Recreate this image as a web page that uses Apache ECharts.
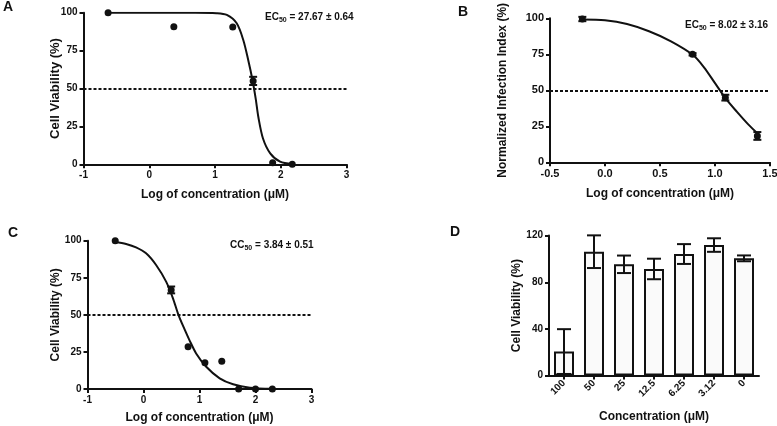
<!DOCTYPE html>
<html lang="en">
<head>
<meta charset="UTF-8">
<title>Dose response panels</title>
<script src="https://cdn.jsdelivr.net/npm/echarts@6/dist/echarts.min.js"></script>
<style>
  html, body { margin: 0; padding: 0; background: #fff; }
  #chart { width: 777px; height: 426px; }
</style>
</head>
<body>
<div id="chart"></div>
<script>
// panel A: cell viability vs log concentration
var logConcA = [-0.626, 0.374, 1.27, 1.58, 1.877, 2.175];
var viabilityA = [100, 90.8, 90.6, 55, 1, 0];
var errA = [0, 0, 0, 2.7, 0, 0];
// fitted curve
var fitLogA = [-0.626, 0.2, 0.7, 1.02, 1.18, 1.33, 1.43, 1.505, 1.57, 1.62, 1.66, 1.73, 1.84, 1.99, 2.175];
var fitA = [100, 100, 100, 99.7, 98.5, 93, 82, 68.8, 55.6, 43, 31, 17, 7.2, 1.7, 0.2];

// panel B: normalized infection index
var logConcB = [-0.206, 0.796, 1.094, 1.385];
var infectionB = [99.5, 75, 44.9, 18.3];
var errB = [1.5, 0.8, 2, 2.7];
var fitLogB = [-0.206, 0, 0.2, 0.4, 0.6, 0.8, 0.9, 1.0, 1.1, 1.2, 1.3, 1.394];
var fitB = [99.2, 98.6, 96, 91, 84, 74.5, 66, 55, 44, 35, 26.5, 19.5];

// panel C: cell viability (CC50)
var logConcC = [-0.505, 0.494, 0.796, 1.097, 1.398, 1.699, 2.0, 2.301];
var viabilityC = [100, 66.8, 28.5, 17.7, 18.7, 0, 0, 0];
var errC = [0, 2.3, 0, 0, 0, 0, 0, 0];
var fitLogC = [-0.51, -0.31, -0.133, 0.046, 0.225, 0.404, 0.523, 0.624, 0.73, 0.82, 0.94, 1.12, 1.36, 1.6, 1.9, 2.3];
var fitC = [99.3, 97.8, 95.5, 91.5, 83.6, 72.4, 61.5, 50, 40.5, 33, 24, 15, 7.2, 3.2, 0.9, 0.1];

// panel D: bar chart
var concD = ['100', '50', '25', '12.5', '6.25', '3.12', '0'];
var viabilityD = [20.6, 106.2, 95.4, 91.4, 104.2, 111.9, 100.5];
var errD = [19.2, 14, 7.5, 8.8, 8.5, 5.8, 2.5];

var INK = '#111';
var FONT = '"Liberation Sans", Arial, sans-serif';

function pairs(xs, ys) {
    return xs.map(function (x, i) { return [x, ys[i]]; });
}
function withErr(xs, ys, es) {
    var out = [];
    xs.forEach(function (x, i) {
        if (es[i] > 0) out.push([x, ys[i], es[i]]);
    });
    return out;
}

function errorBar(cap) {
    return function (params, api) {
        var x = api.value(0), y = api.value(1), e = api.value(2);
        var hi = api.coord([x, y + e]);
        var lo = api.coord([x, y - e]);
        var st = { stroke: INK, lineWidth: 2 };
        return {
            type: 'group',
            children: [
                { type: 'line', shape: { x1: hi[0], y1: hi[1], x2: lo[0], y2: lo[1] }, style: st },
                { type: 'line', shape: { x1: hi[0] - cap, y1: hi[1], x2: hi[0] + cap, y2: hi[1] }, style: st },
                { type: 'line', shape: { x1: lo[0] - cap, y1: lo[1], x2: lo[0] + cap, y2: lo[1] }, style: st }
            ]
        };
    };
}

function axisBase(extra) {
    var a = {
        axisLine: { show: true, onZero: false, lineStyle: { color: INK, width: 2 } },
        axisTick: { show: true, length: 4, lineStyle: { color: INK, width: 2 } },
        splitLine: { show: false },
        axisLabel: { color: INK, fontFamily: FONT, fontWeight: 'bold', fontSize: 10, margin: 6 },
        nameLocation: 'middle',
        nameMoveOverlap: false,
        nameTextStyle: { color: INK, fontFamily: FONT, fontWeight: 'bold', fontSize: 12 }
    };
    for (var k in extra) a[k] = extra[k];
    return a;
}

var dashed50 = {
    silent: true,
    symbol: 'none',
    label: { show: false },
    lineStyle: { color: INK, type: [3, 2], width: 2 },
    data: [{ yAxis: 50 }]
};

function ecText(prefix, rest) {
    return '{n|' + prefix + '}{s|50}{n| = ' + rest + '}';
}
var ecRich = {
    n: { fontSize: 10, fontFamily: FONT, color: INK, lineHeight: 14 },
    s: { fontSize: 7, fontFamily: FONT, color: INK, lineHeight: 6, verticalAlign: 'bottom' }
};

var dot = { color: INK, opacity: 1 };

var chart = echarts.init(document.getElementById('chart'));

var option = {
    animation: false,
    backgroundColor: '#fff',
    title: [
        { text: 'A', left: 3, top: 0, padding: 0, textStyle: { fontFamily: FONT, fontSize: 14, fontWeight: 'bold', color: INK } },
        { text: 'B', left: 458, top: 5, padding: 0, textStyle: { fontFamily: FONT, fontSize: 14, fontWeight: 'bold', color: INK } },
        { text: 'C', left: 8, top: 226, padding: 0, textStyle: { fontFamily: FONT, fontSize: 14, fontWeight: 'bold', color: INK } },
        { text: 'D', left: 450, top: 225, padding: 0, textStyle: { fontFamily: FONT, fontSize: 14, fontWeight: 'bold', color: INK } },
        { text: ecText('EC', '27.67 ± 0.64'), left: 265, top: 10, padding: 0, textStyle: { rich: ecRich } },
        { text: ecText('EC', '8.02 ± 3.16'), left: 685, top: 18, padding: 0, textStyle: { rich: ecRich } },
        { text: ecText('CC', '3.84 ± 0.51'), left: 230, top: 238, padding: 0, textStyle: { rich: ecRich } }
    ],
    grid: [
        { left: 83.5, top: 12.7, width: 263, height: 151.6, outerBoundsMode: 'none' },
        { left: 550, top: 18.3, width: 220, height: 144, outerBoundsMode: 'none' },
        { left: 87.5, top: 240.7, width: 224, height: 148.3, outerBoundsMode: 'none' },
        { left: 549, top: 235.6, width: 210, height: 140, outerBoundsMode: 'none' }
    ],
    xAxis: [
        axisBase({ gridIndex: 0, type: 'value', min: -1, max: 3, interval: 1,
            name: 'Log of concentration (μM)', nameGap: 24 }),
        axisBase({ gridIndex: 1, type: 'value', min: -0.5, max: 1.5, interval: 0.5,
            name: 'Log of concentration (μM)', nameGap: 25,
            axisLabel: { color: INK, fontFamily: FONT, fontWeight: 'bold', fontSize: 11, margin: 6,
                formatter: function (v) { return v.toFixed(1); } } }),
        axisBase({ gridIndex: 2, type: 'value', min: -1, max: 3, interval: 1,
            name: 'Log of concentration (μM)', nameGap: 23 }),
        axisBase({ gridIndex: 3, type: 'category', data: concD,
            name: 'Concentration (μM)', nameGap: 35,
            axisTick: { show: true, length: 4, alignWithLabel: true, lineStyle: { color: INK, width: 2 } },
            axisLabel: { color: INK, fontFamily: FONT, fontWeight: 'bold', fontSize: 10, margin: 6, rotate: 45, interval: 0 } })
    ],
    yAxis: [
        axisBase({ gridIndex: 0, type: 'value', min: 0, max: 100, interval: 25,
            name: 'Cell Viability (%)', nameGap: 22,
            nameTextStyle: { color: INK, fontFamily: FONT, fontWeight: 'bold', fontSize: 13 } }),
        axisBase({ gridIndex: 1, type: 'value', min: 0, max: 100, interval: 25,
            name: 'Normalized Infection Index (%)', nameGap: 41,
            axisLabel: { color: INK, fontFamily: FONT, fontWeight: 'bold', fontSize: 11, margin: 6 } }),
        axisBase({ gridIndex: 2, type: 'value', min: 0, max: 100, interval: 25,
            name: 'Cell Viability (%)', nameGap: 26 }),
        axisBase({ gridIndex: 3, type: 'value', min: 0, max: 120, interval: 40,
            name: 'Cell Viability (%)', nameGap: 26 })
    ],
    series: [
        // A
        { type: 'line', xAxisIndex: 0, yAxisIndex: 0, data: pairs(fitLogA, fitA), smooth: 0.3,
          showSymbol: false, lineStyle: { color: INK, width: 2 }, markLine: dashed50, z: 3 },
        { type: 'scatter', xAxisIndex: 0, yAxisIndex: 0, data: pairs(logConcA, viabilityA),
          symbolSize: 7, itemStyle: dot, z: 4 },
        { type: 'custom', xAxisIndex: 0, yAxisIndex: 0, data: withErr(logConcA, viabilityA, errA),
          renderItem: errorBar(4), z: 5 },
        // B
        { type: 'line', xAxisIndex: 1, yAxisIndex: 1, data: pairs(fitLogB, fitB), smooth: 0.3,
          showSymbol: false, lineStyle: { color: INK, width: 2 }, markLine: dashed50, z: 3 },
        { type: 'scatter', xAxisIndex: 1, yAxisIndex: 1, data: pairs(logConcB, infectionB),
          symbolSize: 7, itemStyle: dot, z: 4 },
        { type: 'custom', xAxisIndex: 1, yAxisIndex: 1, data: withErr(logConcB, infectionB, errB),
          renderItem: errorBar(4), z: 5 },
        // C
        { type: 'line', xAxisIndex: 2, yAxisIndex: 2, data: pairs(fitLogC, fitC), smooth: 0.3,
          showSymbol: false, lineStyle: { color: INK, width: 2 }, markLine: dashed50, z: 3 },
        { type: 'scatter', xAxisIndex: 2, yAxisIndex: 2, data: pairs(logConcC, viabilityC),
          symbolSize: 7, itemStyle: dot, z: 4 },
        { type: 'custom', xAxisIndex: 2, yAxisIndex: 2, data: withErr(logConcC, viabilityC, errC),
          renderItem: errorBar(4), z: 5 },
        // D
        { type: 'bar', xAxisIndex: 3, yAxisIndex: 3, data: viabilityD, barWidth: 20,
          itemStyle: { color: '#fafafa', borderColor: INK, borderWidth: 2 } },
        { type: 'custom', xAxisIndex: 3, yAxisIndex: 3,
          data: viabilityD.map(function (v, i) { return [i, v, errD[i]]; }),
          renderItem: errorBar(7), z: 5 }
    ]
};

chart.setOption(option);
</script>
</body>
</html>
